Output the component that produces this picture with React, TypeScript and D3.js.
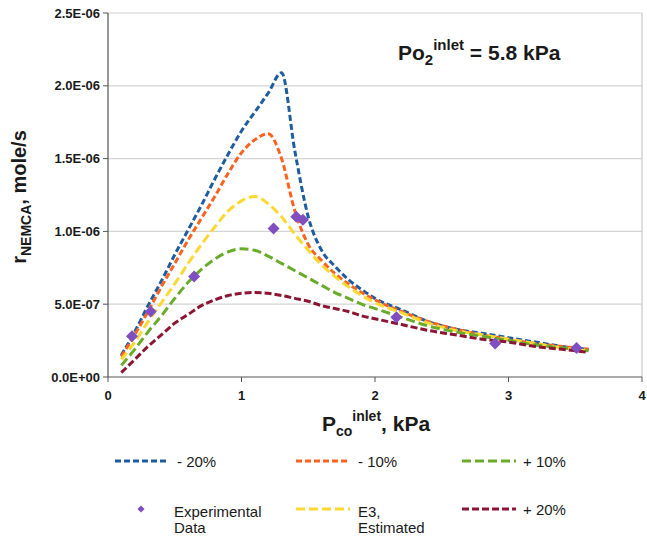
import React from 'react'
import * as d3 from 'd3'

// P_co inlet, kPa
const pco = [0.1, 0.2, 0.3, 0.4, 0.5, 0.6, 0.7, 0.8, 0.9, 1.0, 1.1, 1.2, 1.3, 1.4, 1.5, 1.6, 1.7, 1.8, 1.9, 2.0, 2.2, 2.4, 2.6, 2.8, 3.0, 3.2, 3.4, 3.6]

// rates, x1e-6 mole/s
const minus20 = [0.15, 0.31, 0.49, 0.66, 0.84, 1.01, 1.18, 1.36, 1.53, 1.69, 1.82, 1.95, 2.09, 1.55, 1.1, 0.87, 0.76, 0.67, 0.6, 0.54, 0.46, 0.38, 0.33, 0.3, 0.27, 0.24, 0.21, 0.19]
const minus10 = [0.14, 0.29, 0.45, 0.62, 0.78, 0.94, 1.09, 1.24, 1.4, 1.54, 1.63, 1.67, 1.5, 1.14, 0.91, 0.8, 0.71, 0.64, 0.58, 0.53, 0.45, 0.38, 0.33, 0.29, 0.26, 0.23, 0.21, 0.19]
const e3 = [0.12, 0.24, 0.38, 0.51, 0.64, 0.78, 0.91, 1.03, 1.14, 1.21, 1.24, 1.19, 1.1, 0.98, 0.87, 0.77, 0.69, 0.62, 0.56, 0.51, 0.44, 0.37, 0.32, 0.29, 0.26, 0.23, 0.2, 0.18]
const plus10 = [0.08, 0.19, 0.31, 0.42, 0.54, 0.65, 0.74, 0.81, 0.86, 0.88, 0.87, 0.83, 0.78, 0.73, 0.68, 0.63, 0.58, 0.54, 0.5, 0.47, 0.41, 0.35, 0.31, 0.28, 0.25, 0.22, 0.2, 0.18]
const plus20 = [0.03, 0.12, 0.21, 0.29, 0.37, 0.43, 0.49, 0.53, 0.56, 0.575, 0.58, 0.575, 0.56, 0.54, 0.52, 0.49, 0.47, 0.45, 0.42, 0.4, 0.36, 0.32, 0.29, 0.26, 0.24, 0.21, 0.19, 0.17]

const expX = [0.18, 0.32, 0.645, 1.24, 1.41, 1.46, 2.16, 2.9, 3.51]
const expY = [0.28, 0.45, 0.69, 1.02, 1.1, 1.08, 0.41, 0.23, 0.2]

const yTicks = [0, 0.5, 1.0, 1.5, 2.0, 2.5]
const yTickLabels = ['0.0E+00', '5.0E-07', '1.0E-06', '1.5E-06', '2.0E-06', '2.5E-06']
const xTicks = [0, 1, 2, 3, 4]

const series = [
  { name: '- 20%', values: minus20, color: '#1f5c9e', dash: '6,3' },
  { name: '- 10%', values: minus10, color: '#fb6321', dash: '6,3' },
  { name: 'E3', values: e3, color: '#fdd835', dash: '9,4' },
  { name: '+ 10%', values: plus10, color: '#6aab2b', dash: '9,4' },
  { name: '+ 20%', values: plus20, color: '#8c1534', dash: '7,3' },
]

const font = 'Liberation Sans, Arial, sans-serif'

export default function App() {
  const width = 647
  const height = 538
  const left = 108, right = 642, top = 13, bottom = 377

  const x = d3.scaleLinear().domain([0, 4]).range([left, right])
  const y = d3.scaleLinear().domain([0, 2.5]).range([bottom, top])

  const line = d3.line<number>()
    .x((d, i) => x(pco[i]))
    .y((d) => y(d))
    .curve(d3.curveMonotoneX)

  // diamond = square turned by 45 degrees
  const diamond = d3.symbol().type(d3.symbolSquare).size(72)()
  const smallDiamond = d3.symbol().type(d3.symbolSquare).size(26)()

  const legendLine = (lx: number, ly: number, s: typeof series[0]) => (
    <line x1={lx} x2={lx + 54} y1={ly} y2={ly} stroke={s.color} strokeWidth={3} strokeDasharray={s.dash} />
  )

  return (
    <svg width={width} height={height} style={{ position: 'absolute', left: 0, top: 0 }} fontFamily={font}>
      <rect width={width} height={height} fill="#fff" />

      {/* grid */}
      {yTicks.filter((t) => t > 0).map((t) => (
        <line key={t} x1={left} x2={right} y1={y(t)} y2={y(t)} stroke="#d4d4d4" strokeWidth={1.2} />
      ))}
      <line x1={right} x2={right} y1={top} y2={bottom} stroke="#c8c8c8" strokeWidth={1.2} />

      {/* axes */}
      <line x1={left} x2={left} y1={top} y2={bottom} stroke="#555" strokeWidth={1.2} />
      <line x1={left} x2={right} y1={bottom} y2={bottom} stroke="#555" strokeWidth={1.2} />
      {yTicks.map((t, i) => (
        <g key={t}>
          <line x1={left - 5} x2={left} y1={y(t)} y2={y(t)} stroke="#555" />
          <text x={left - 8} y={y(t) + 4.5} textAnchor="end" fontSize={13} fontWeight="bold" fill="#1a1a1a">{yTickLabels[i]}</text>
        </g>
      ))}
      {xTicks.map((t) => (
        <g key={t}>
          <line x1={x(t)} x2={x(t)} y1={bottom} y2={bottom + 5} stroke="#555" />
          <text x={x(t)} y={bottom + 23} textAnchor="middle" fontSize={13} fontWeight="bold" fill="#1a1a1a">{t}</text>
        </g>
      ))}

      {/* series */}
      {series.map((s) => (
        <path key={s.name} d={line(s.values) || ''} fill="none" stroke={s.color} strokeWidth={3} strokeDasharray={s.dash} />
      ))}
      {expX.map((v, i) => (
        <path key={i} d={diamond || ''} transform={`translate(${x(v)},${y(expY[i])}) rotate(45)`} fill="#7f4fc2" />
      ))}

      {/* annotation */}
      <text x={398} y={60} fontSize={21} fontWeight="bold" fill="#1a1a1a">
        Po<tspan fontSize={15} dy={5}>2</tspan><tspan fontSize={15} dy={-15}>inlet</tspan><tspan dy={10}> = 5.8 kPa</tspan>
      </text>

      {/* y label */}
      <text transform="translate(26,197) rotate(-90)" textAnchor="middle" fontSize={20} fontWeight="bold" fill="#1a1a1a">
        r<tspan fontSize={14} dy={5}>NEMCA</tspan><tspan dy={-5}>,  mole/s</tspan>
      </text>

      {/* x label */}
      <text x={376} y={431} textAnchor="middle" fontSize={21} fontWeight="bold" fill="#1a1a1a">
        P<tspan fontSize={14} dy={5}>co</tspan><tspan fontSize={14} dy={-15}>inlet</tspan><tspan dy={10}>, kPa</tspan>
      </text>

      {/* legend */}
      <g fontSize={15} fill="#1a1a1a">
        {legendLine(115, 461, series[0])}
        <text x={177} y={467}>- 20%</text>
        {legendLine(296, 461, series[1])}
        <text x={358} y={467}>- 10%</text>
        {legendLine(462, 461, series[3])}
        <text x={523} y={467}>+ 10%</text>

        <path d={smallDiamond || ''} transform="translate(141,509) rotate(45)" fill="#7f4fc2" />
        <text x={174} y={517}>Experimental</text>
        <text x={174} y={533}>Data</text>
        {legendLine(296, 509, series[2])}
        <text x={358} y={517}>E3,</text>
        <text x={358} y={533}>Estimated</text>
        {legendLine(462, 509, series[4])}
        <text x={523} y={515}>+ 20%</text>
      </g>
    </svg>
  )
}
